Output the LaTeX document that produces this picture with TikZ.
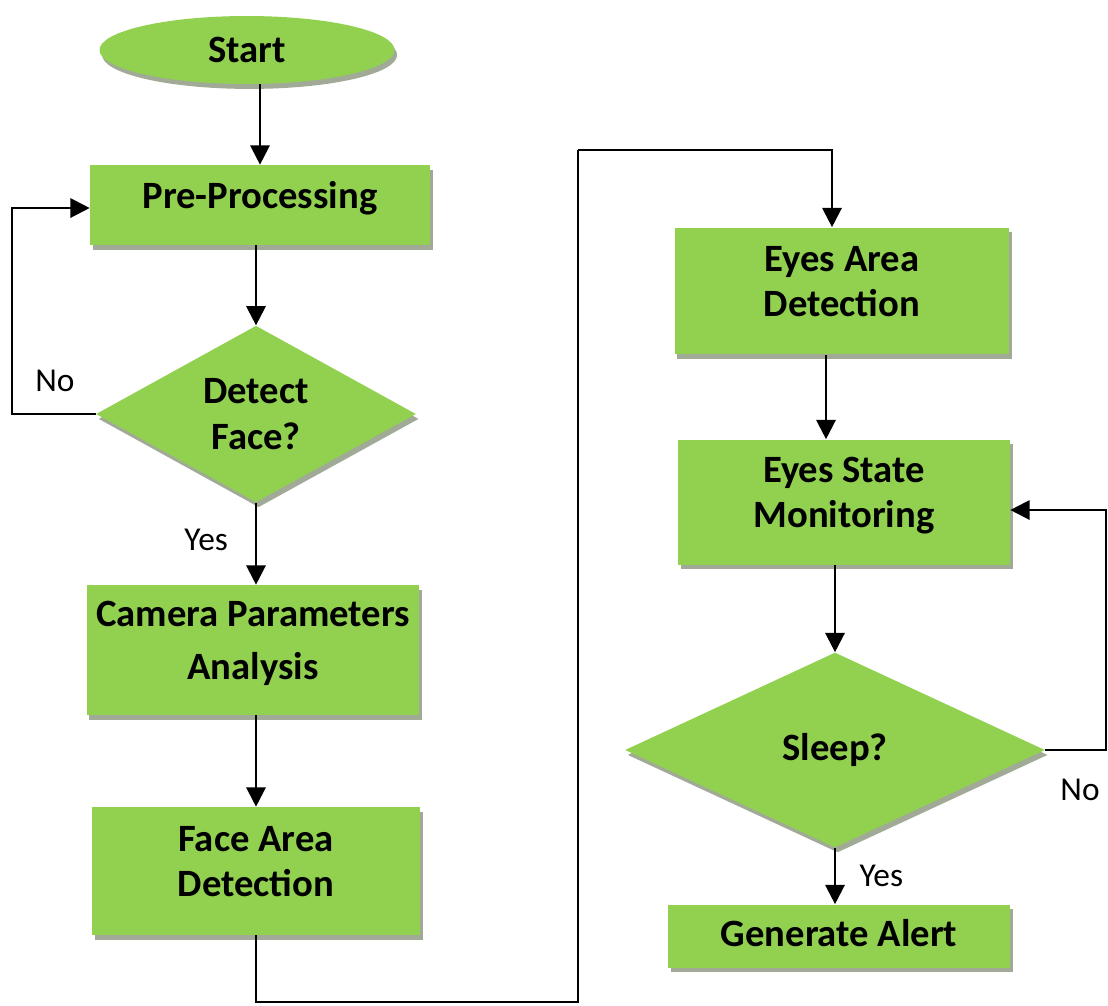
\documentclass[tikz,border=0pt]{standalone}
\usepackage{fontspec}
\setmainfont{Carlito}
\usetikzlibrary{shapes.geometric, arrows.meta, shadows}
\definecolor{boxgreen}{RGB}{146,208,80}
\definecolor{boxshadow}{RGB}{160,170,150}

\begin{document}
\begin{tikzpicture}[
  x=0.02cm, y=-0.02cm,
  font=\fontsize{22}{26}\selectfont\bfseries,
  >={Triangle[width=11pt,length=11pt]},
  line/.style={line width=1.3pt, black},
  flow/.style={line, ->},
  base/.style={fill=boxgreen, draw=none, align=center, inner sep=0pt,
    drop shadow={shadow xshift=1.5pt, shadow yshift=-2.8pt,
      fill=boxshadow, opacity=1}},
  term/.style={base, ellipse, minimum width=5.9cm, minimum height=1.36cm},
  proc/.style={base, rectangle, text depth=11pt},
  decision/.style={base, diamond},
  lbl/.style={font=\fontsize{19}{22}\selectfont}
]
\useasboundingbox (0,0) rectangle (1108,1005);

% left column
\node[term] (start) at (247,50) {Start};
\node[proc, minimum width=6.8cm, minimum height=1.6cm] (pre) at (260,205)
  {Pre-Processing};
\node[decision, minimum width=6.4cm, minimum height=3.5cm] (face) at (256,414)
  {Detect\\Face?};
\node[proc, minimum width=6.66cm, minimum height=2.6cm] (cam) at (253,650)
  {Camera Parameters\\[4pt]Analysis};
\node[proc, minimum width=6.56cm, minimum height=2.56cm] (fad) at (256,871)
  {Face Area\\Detection};

% right column
\node[proc, minimum width=6.7cm, minimum height=2.54cm] (ead) at (842,291)
  {Eyes Area\\Detection};
\node[proc, minimum width=6.64cm, minimum height=2.5cm] (esm) at (844,502)
  {Eyes State\\Monitoring};
\node[decision, minimum width=8.4cm, minimum height=3.9cm] (sleep) at (835,750)
  {Sleep?};
\node[proc, text depth=4pt, minimum width=6.84cm, minimum height=1.26cm] (alert)
  at (839,936) {Generate Alert};

\coordinate (noA) at (12,208);
\coordinate (btm) at (578,1002);
\coordinate (top) at (578,150);
\coordinate (noB) at (1106,510);

\draw[flow] (pre.north |- start.south) -- (pre.north);
\draw[flow] (pre.south -| face.north) -- (face.north);
\draw[flow] (face.west) -| (noA) -- (noA -| pre.west);
\draw[flow] (face.south) -- (face.south |- cam.north)
  node[lbl, pos=0.45, left=12pt] {Yes};
\draw[flow] (cam.south -| face.south) -- (face.south |- fad.north);
\draw[line] (fad.south) |- (btm) -- (top);
\draw[flow] (top) -| ([xshift=-0.2cm]ead.north);
\draw[flow] ([xshift=-0.32cm]ead.south) -- ([xshift=-0.32cm]ead.south |- esm.north);
\draw[flow] (sleep.north |- esm.south) -- (sleep.north);
\draw[flow] (sleep.south) -- (sleep.south |- alert.north)
  node[lbl, pos=0.5, right=10pt] {Yes};
\draw[flow] (sleep.east) -| (noB) -- (noB -| esm.east);

\node[lbl] (noleft) at (55,381) {No};
\node[lbl] (noright) at (1080,790) {No};
\end{tikzpicture}
\end{document}
